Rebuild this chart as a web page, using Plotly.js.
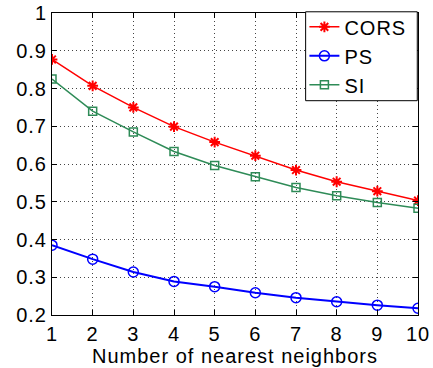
<!DOCTYPE html>
<html>
<head>
<meta charset="utf-8">
<script src="https://cdn.plot.ly/plotly-3.0.1.min.js"></script>
<style>
html,body{margin:0;padding:0;background:#fff;}
#chart{width:433px;height:368px;}
#chart text{letter-spacing:1px;}
</style>
</head>
<body>
<div id="chart"></div>
<script>
const neighbors = [1, 2, 3, 4, 5, 6, 7, 8, 9, 10];
const cors = [0.877, 0.807, 0.750, 0.699, 0.658, 0.622, 0.584, 0.553, 0.528, 0.503];
const ps = [0.385, 0.348, 0.314, 0.289, 0.275, 0.259, 0.246, 0.235, 0.226, 0.218];
const si = [0.825, 0.740, 0.685, 0.633, 0.596, 0.566, 0.538, 0.516, 0.498, 0.483];
const yTicks = [0.2, 0.3, 0.4, 0.5, 0.6, 0.7, 0.8, 0.9, 1];
const yTickText = ['0.2', '0.3', '0.4', '0.5', '0.6', '0.7', '0.8', '0.9', '1'];

const font = {family: 'Liberation Sans, Arial, sans-serif', size: 20, color: '#000'};

const traces = [
  {x: neighbors, y: cors, name: 'CORS', mode: 'lines+markers',
   line: {color: '#ff0000', width: 1.5},
   marker: {symbol: 'asterisk-open', size: 9, color: '#ff0000', line: {color: '#ff0000', width: 2}}},
  {x: neighbors, y: ps, name: 'PS', mode: 'lines+markers',
   line: {color: '#0000ff', width: 2},
   marker: {symbol: 'circle-open', size: 10, color: '#0000ff', line: {color: '#0000ff', width: 1.5}}},
  {x: neighbors, y: si, name: 'SI', mode: 'lines+markers',
   line: {color: '#2e8b57', width: 1.5},
   marker: {symbol: 'square-open', size: 8, color: '#2e8b57', line: {color: '#2e8b57', width: 1.5}}}
];

const axisCommon = {
  showline: true, mirror: 'ticks', linecolor: '#000', linewidth: 1,
  ticks: 'inside', ticklen: 5, tickcolor: '#000',
  showgrid: true, gridcolor: '#444', griddash: '1px,3px', gridwidth: 1,
  zeroline: false, tickfont: font
};

const layout = {
  width: 433, height: 368,
  margin: {l: 52, r: 15, t: 13, b: 53, autoexpand: false},
  paper_bgcolor: '#fff', plot_bgcolor: '#fff',
  font: font,
  showlegend: true,
  legend: {xref: 'container', yref: 'container', x: 0.703, y: 0.98, xanchor: 'left', yanchor: 'top',
    borderwidth: 0, bgcolor: 'rgba(0,0,0,0)',
    font: {family: 'Liberation Sans, Arial, sans-serif', size: 20, color: '#000'}},
  shapes: [
    {type: 'rect', xref: 'paper', yref: 'paper', x0: 0.693, x1: 0.998, y0: 0.7096, y1: 1.004,
     line: {color: '#000', width: 1}, fillcolor: '#fff', layer: 'above'}
  ],
  xaxis: Object.assign({}, axisCommon, {
    range: [1, 10], tickmode: 'array', tickvals: neighbors,
    ticklabelstandoff: 1,
    title: {text: 'Number of nearest neighbors', font: font, standoff: 2}
  }),
  yaxis: Object.assign({}, axisCommon, {
    range: [0.2, 1], tickmode: 'array', tickvals: yTicks, ticktext: yTickText
  })
};

Plotly.newPlot('chart', traces, layout, {displayModeBar: false, staticPlot: true});
</script>
</body>
</html>
